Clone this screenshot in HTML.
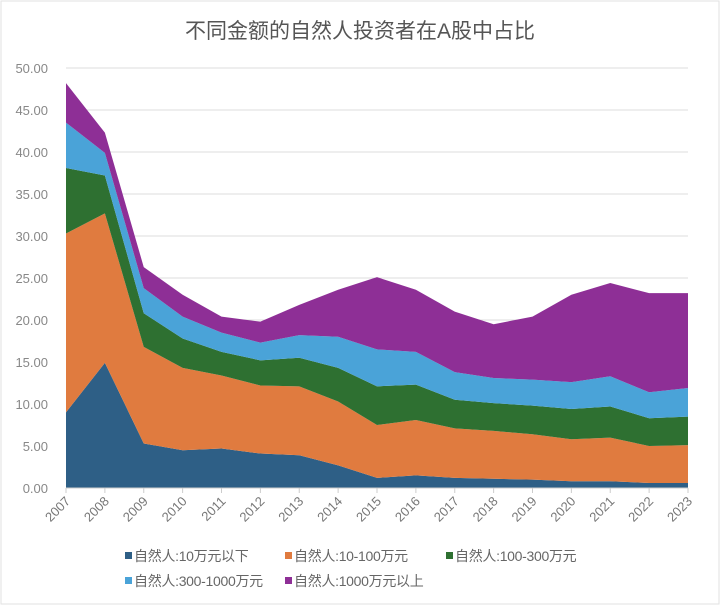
<!DOCTYPE html>
<html><head><meta charset="utf-8"><style>
html,body{margin:0;padding:0;background:#fff;}
svg{display:block;font-family:"Liberation Sans","Noto Sans CJK SC",sans-serif;}
</style></head><body>
<svg id="chart" width="720" height="605">
<rect x="1" y="1" width="718" height="603" fill="#fff" stroke="#e2e2e2"/>
<text x="360" y="38" text-anchor="middle" font-size="21" fill="#555">不同金额的自然人投资者在A股中占比</text>
<g id="grid"></g><g id="areas"></g><g id="axes"></g><g id="legend"></g>
</svg>
<script>
const years = ["2007","2008","2009","2010","2011","2012","2013","2014","2015","2016","2017","2018","2019","2020","2021","2022","2023"];
const seriesNames = ["自然人:10万元以下","自然人:10-100万元","自然人:100-300万元","自然人:300-1000万元","自然人:1000万元以上"];
const s1 = [9.0,14.9,5.3,4.5,4.7,4.1,3.9,2.7,1.2,1.5,1.2,1.1,1.0,0.8,0.8,0.6,0.6];
const s2 = [21.3,17.8,11.5,9.8,8.7,8.1,8.2,7.6,6.3,6.6,5.9,5.7,5.4,5.0,5.2,4.4,4.5];
const s3 = [7.8,4.5,4.0,3.5,2.8,3.0,3.4,4.0,4.6,4.2,3.4,3.3,3.4,3.6,3.7,3.3,3.4];
const s4 = [5.4,2.7,3.0,2.6,2.3,2.1,2.7,3.7,4.4,3.9,3.3,3.0,3.1,3.2,3.6,3.1,3.4];
const s5 = [4.7,2.4,2.5,2.6,1.9,2.5,3.6,5.6,8.6,7.4,7.2,6.4,7.5,10.4,11.1,11.8,11.3];
const yTicks = [0,5,10,15,20,25,30,35,40,45,50];

const colors = ["#2e5f86","#e07b3f","#2e7031","#4aa3d8","#8e2f96"];
const NS = "http://www.w3.org/2000/svg";
const X0=66, X1=688, Y0=488, Y1=68, YMAX=50;
const xs = i => X0 + (X1-X0)*i/(years.length-1);
const ys = v => Y0 - (Y0-Y1)*v/YMAX;
function mk(t, a, parent){const e=document.createElementNS(NS,t);for(const k in a)e.setAttribute(k,a[k]);parent.appendChild(e);return e;}
const grid=document.getElementById('grid'), areas=document.getElementById('areas'), axes=document.getElementById('axes'), legend=document.getElementById('legend');

yTicks.forEach(t=>{
  const l=mk('line',{x1:X0,x2:X1,y1:ys(t),y2:ys(t),stroke:'#dcdcdc','stroke-width':1},grid);
  
  
  const tx=mk('text',{x:48,y:ys(t)+5,'text-anchor':'end','font-size':13,fill:'#888'},axes);
  tx.textContent=t.toFixed(2);
  
  
});

const series=[s1,s2,s3,s4,s5];
let base=years.map(()=>0);
series.forEach((s,k)=>{
  const top=s.map((v,i)=>base[i]+v);
  let d='M'+years.map((_,i)=>xs(i)+','+ys(top[i])).join(' L');
  for(let i=years.length-1;i>=0;i--) d+=' L'+xs(i)+','+ys(base[i]);
  d+=' Z';
  const p=mk('path',{d:d,fill:colors[k]},areas);
  
  
  base=top;
});

mk('line',{x1:X0,x2:X1,y1:Y0,y2:Y0,stroke:'#ccc'},axes);
years.forEach((y,i)=>{
  mk('line',{x1:xs(i),x2:xs(i),y1:Y0,y2:Y0+5,stroke:'#ccc'},axes);
  const tx=mk('text',{x:xs(i)+5,y:Y0+14,'text-anchor':'end','font-size':13,fill:'#777',transform:'rotate(-45 '+(xs(i)+5)+' '+(Y0+14)+')'},axes);
  tx.textContent=y;
  
  
});

const legPos=[[125,561],[285,561],[446,561],[125,586],[285,586]];
seriesNames.forEach((n,k)=>{
  const g=mk('g',{},legend);
  
  
  const [lx,ly]=legPos[k];
  mk('rect',{x:lx,y:ly-9,width:7,height:7,fill:colors[k]},g);
  const tx=mk('text',{x:lx+9,y:ly,'font-size':14,fill:'#666','letter-spacing':'-0.3'},g);
  tx.textContent=n;
});
</script>
</body></html>
